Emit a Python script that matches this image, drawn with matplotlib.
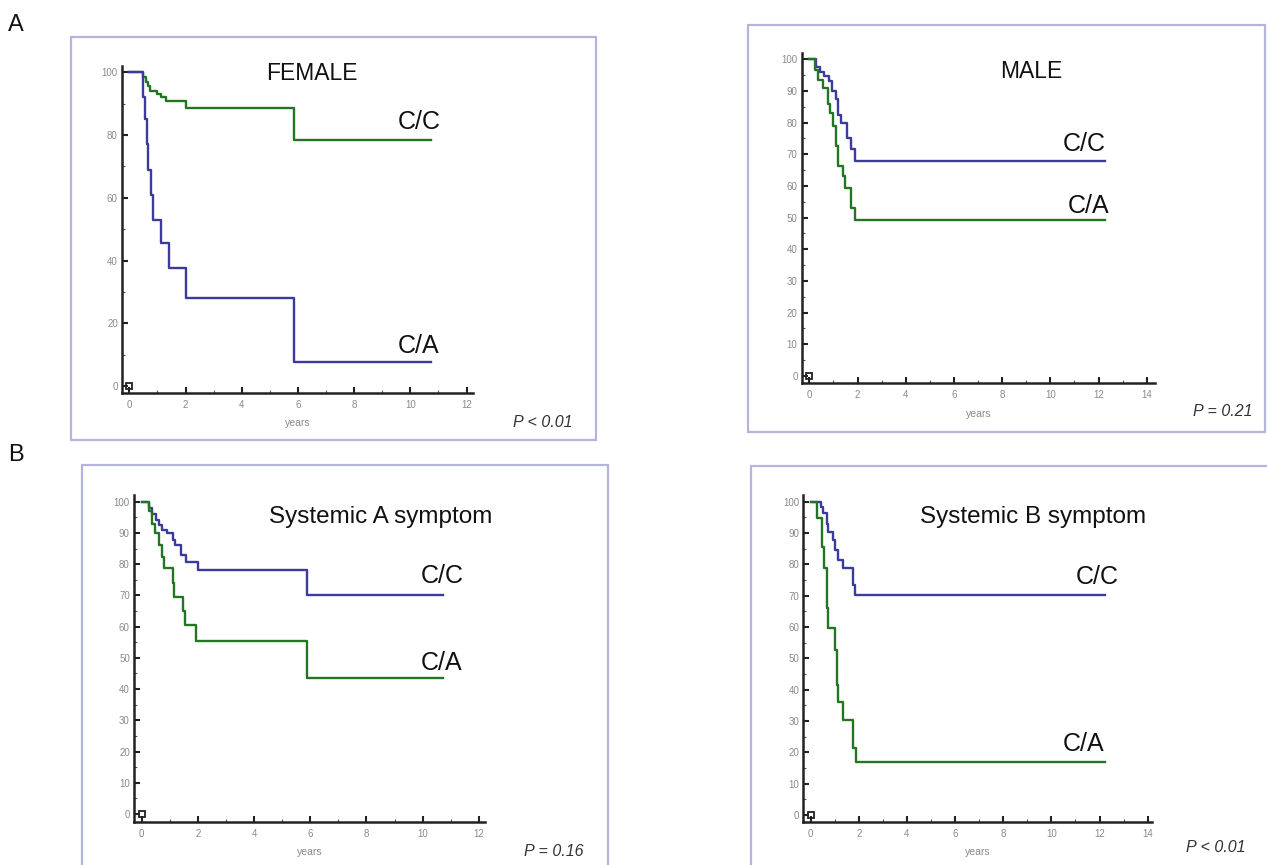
import matplotlib
matplotlib.use('Agg')
import matplotlib.pyplot as plt
from matplotlib.patches import Rectangle
from matplotlib.ticker import MultipleLocator

plt.rcParams['font.family'] = ['Liberation Sans', 'DejaVu Sans']

W, H = 1267, 865

# survival (%) against years
female_cc_t = [0, 0.49, 0.58, 0.66, 0.72, 1.0, 1.14, 1.32, 2.03, 5.87, 10.75]
female_cc_s = [100, 98.5, 97, 95.5, 94, 93, 92, 91, 88.5, 78.5, 78.5]
female_ca_t = [0, 0.49, 0.55, 0.62, 0.66, 0.78, 0.84, 1.14, 1.43, 2.03, 5.87, 10.75]
female_ca_s = [100, 92, 85, 77, 69, 61, 53, 45.5, 37.5, 28, 7.5, 7.5]

male_cc_t = [0, 0.28, 0.45, 0.6, 0.8, 0.95, 1.1, 1.2, 1.3, 1.55, 1.75, 1.88, 12.26]
male_cc_s = [100, 97.5, 96, 94.7, 93, 90, 87.5, 82.5, 80, 75.3, 71.6, 68, 68]
male_ca_t = [0, 0.22, 0.35, 0.55, 0.76, 0.85, 0.98, 1.1, 1.18, 1.4, 1.48, 1.75, 1.88, 12.26]
male_ca_s = [100, 96.5, 93.5, 91, 86, 83, 79, 72.6, 66.3, 63, 59.5, 53, 49.2, 49.2]

sysa_cc_t = [0, 0.25, 0.38, 0.5, 0.62, 0.74, 0.92, 1.1, 1.2, 1.41, 1.59, 2.0, 5.87, 10.74]
sysa_cc_s = [100, 98, 96, 94, 92.5, 91, 90, 87.7, 86, 83, 80.8, 78.1, 70.2, 70.2]
sysa_ca_t = [0, 0.25, 0.37, 0.49, 0.61, 0.74, 0.8, 1.1, 1.15, 1.47, 1.53, 1.95, 5.87, 10.74]
sysa_ca_s = [100, 97, 93, 90, 86, 82.4, 78.7, 74, 69.6, 65, 60.5, 55.3, 43.5, 43.5]

sysb_cc_t = [0, 0.42, 0.53, 0.66, 0.73, 0.94, 1.01, 1.12, 1.36, 1.77, 1.86, 12.23]
sysb_cc_s = [100, 98.4, 96.3, 93, 90.4, 87.8, 84.6, 81.4, 78.7, 73.4, 70.2, 70.2]
sysb_ca_t = [0, 0.25, 0.46, 0.55, 0.66, 0.7, 1.01, 1.08, 1.15, 1.36, 1.77, 1.9, 12.23]
sysb_ca_s = [100, 94.7, 85.6, 78.7, 66, 59.6, 52.7, 41.5, 36.2, 30.3, 21.3, 17, 17]

titles = ['FEMALE', 'MALE', 'Systemic A symptom', 'Systemic B symptom']
p_values = ['P < 0.01', 'P = 0.21', 'P = 0.16', 'P < 0.01']

GREEN = '#237523'
BLUE = '#3b3b9c'
FRAME = '#b4b4dc'
TICK = '#8a8a8a'


def fx(px):
    return px / W


def fy(py):
    return 1 - py / H


fig = plt.figure(figsize=(W / 100, H / 100), dpi=100)

# layout of each panel in pixels:
# frame box, axis box, x origin and px per year, y origin and px per percent
panels = [
    dict(frame=(70.6, 37.3, 596, 440), box=(122, 473.3, 66, 393), x0=129.3, sx=28.1,
         y0=386, sy=3.137, xmaj=2, ymaj=20, ymin=10, title_xy=(312, 73), tsize=16.5,
         cc_xy=(419, 122), ca_xy=(419, 346), p_xy=(543, 423),
         curves=[(female_cc_t, female_cc_s, GREEN), (female_ca_t, female_ca_s, BLUE)]),
    dict(frame=(748.4, 25, 1265, 431.7), box=(801.7, 1155, 53.3, 383.3), x0=809.3, sx=24.1,
         y0=376, sy=3.167, xmaj=2, ymaj=10, ymin=5, title_xy=(1031, 72), tsize=16.5,
         cc_xy=(1084, 144), ca_xy=(1089, 206), p_xy=(1223, 412),
         curves=[(male_cc_t, male_cc_s, BLUE), (male_ca_t, male_ca_s, GREEN)]),
    dict(frame=(82.5, 465, 607.8, 880), box=(134, 485.3, 495, 821.7), x0=141.6, sx=28.1,
         y0=814, sy=3.123, xmaj=2, ymaj=10, ymin=5, title_xy=(381, 517), tsize=17.5,
         cc_xy=(442, 576), ca_xy=(442, 663), p_xy=(554, 852),
         curves=[(sysa_cc_t, sysa_cc_s, BLUE), (sysa_ca_t, sysa_ca_s, GREEN)]),
    dict(frame=(751, 466, 1275, 880), box=(803.3, 1151.7, 495, 821.7), x0=810.7, sx=24.07,
         y0=815, sy=3.133, xmaj=2, ymaj=10, ymin=5, title_xy=(1033, 517), tsize=17.5,
         cc_xy=(1097, 577), ca_xy=(1084, 744), p_xy=(1216, 847),
         curves=[(sysb_cc_t, sysb_cc_s, BLUE), (sysb_ca_t, sysb_ca_s, GREEN)]),
]

for i, pn in enumerate(panels):
    # light purple frame round each chart
    l, t, r, b = pn['frame']
    fig.add_artist(Rectangle((fx(l), fy(b)), fx(r) - fx(l), fy(t) - fy(b),
                             transform=fig.transFigure, fill=False,
                             edgecolor=FRAME, linewidth=1.6))

    left, right, top, bottom = pn['box']
    ax = fig.add_axes([fx(left), fy(bottom), fx(right) - fx(left), fy(top) - fy(bottom)])
    ax.set_xlim((left - pn['x0']) / pn['sx'], (right - pn['x0']) / pn['sx'])
    ax.set_ylim((pn['y0'] - bottom) / pn['sy'], (pn['y0'] - top) / pn['sy'])

    for times, surv, col in pn['curves']:
        ax.step(times, surv, where='post', color=col, linewidth=1.7)

    # small box at the origin
    ax.plot(0, 0, 's', mfc='none', mec='#222222', ms=4, mew=1.3, clip_on=False)

    for side in ['top', 'right']:
        ax.spines[side].set_visible(False)
    for side in ['left', 'bottom']:
        ax.spines[side].set_linewidth(1.8)
        ax.spines[side].set_color('#222222')

    ax.xaxis.set_major_locator(MultipleLocator(pn['xmaj']))
    ax.xaxis.set_minor_locator(MultipleLocator(1))
    ax.yaxis.set_major_locator(MultipleLocator(pn['ymaj']))
    ax.yaxis.set_minor_locator(MultipleLocator(pn['ymin']))
    ax.tick_params(which='major', direction='in', length=4, width=1.5,
                   color='#222222', labelsize=7, labelcolor=TICK)
    ax.tick_params(axis='x', which='major', pad=5)
    ax.tick_params(axis='y', which='major', pad=3)
    ax.tick_params(which='minor', direction='in', length=2, width=0.8, color='#555555')

    ax.set_xlabel('years', fontsize=7.5, color=TICK, labelpad=6)

    tx, ty = pn['title_xy']
    fig.text(fx(tx), fy(ty), titles[i], fontsize=pn['tsize'], color='#111111',
             ha='center', va='center')
    cx, cy = pn['cc_xy']
    fig.text(fx(cx), fy(cy), 'C/C', fontsize=18, color='#111111', ha='center', va='center')
    cx, cy = pn['ca_xy']
    fig.text(fx(cx), fy(cy), 'C/A', fontsize=18, color='#111111', ha='center', va='center')
    px, py = pn['p_xy']
    fig.text(fx(px), fy(py), p_values[i], fontsize=11.5, style='italic', color='#333333',
             ha='center', va='center')

# panel letters
fig.text(fx(16), fy(25), 'A', fontsize=17, color='#111111', ha='center', va='center')
fig.text(fx(16), fy(455), 'B', fontsize=17, color='#111111', ha='center', va='center')

fig.savefig('out.png', dpi=100)
